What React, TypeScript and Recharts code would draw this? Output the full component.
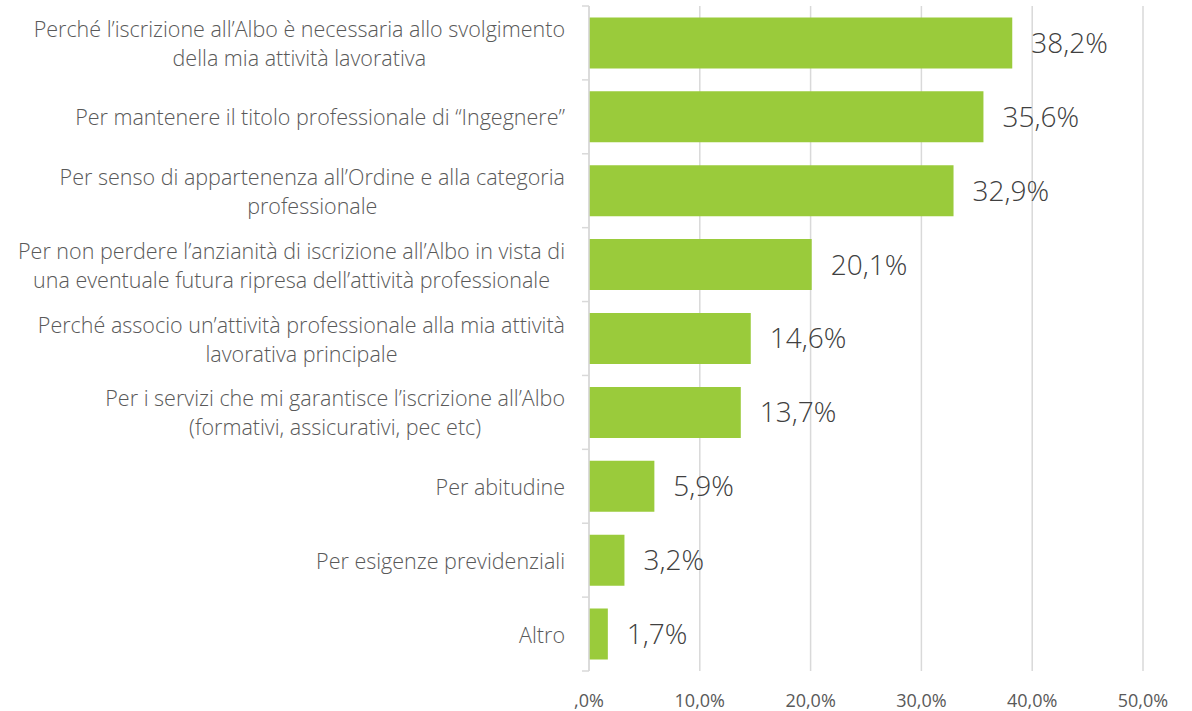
import React from "react";
import { BarChart, Bar, XAxis, YAxis, CartesianGrid, LabelList } from "recharts";

const categories: string[] = [
  "Perché l’iscrizione all’Albo è necessaria allo svolgimento\ndella mia attività lavorativa",
  "Per mantenere il titolo professionale di “Ingegnere”",
  "Per senso di appartenenza all’Ordine e alla categoria\nprofessionale",
  "Per non perdere l’anzianità di iscrizione all’Albo in vista di\nuna eventuale futura ripresa dell’attività professionale",
  "Perché associo un’attività professionale alla mia attività\nlavorativa principale",
  "Per i servizi che mi garantisce l’iscrizione all’Albo\n(formativi, assicurativi, pec etc)",
  "Per abitudine",
  "Per esigenze previdenziali",
  "Altro",
];
const values: number[] = [38.2, 35.6, 32.9, 20.1, 14.6, 13.7, 5.9, 3.2, 1.7];
const xTicks: number[] = [0, 10, 20, 30, 40, 50];
const xTickLabels: string[] = [",0%", "10,0%", "20,0%", "30,0%", "40,0%", "50,0%"];

const data = categories.map((label, i) => ({ label, value: values[i] }));

const FONT = "'Open Sans', sans-serif";
const GRAY = "#d9d9d9";

const YTick = (props: any) => {
  const { x, y, payload, index } = props;
  const half = payload && payload.offset ? payload.offset : 36.95;
  const lines: string[] = String(payload.value).split("\n");
  return (
    <g>
      <line x1={x - 7} x2={x} y1={y - half} y2={y - half} stroke={GRAY} strokeWidth={1.5} />
      {index === categories.length - 1 && (
        <line x1={x - 7} x2={x} y1={y + half} y2={y + half} stroke={GRAY} strokeWidth={1.5} />
      )}
      <foreignObject x={0} y={y - 40} width={x - 24} height={80}>
        <div
          style={{
            display: "flex",
            justifyContent: "flex-end",
            alignItems: "center",
            height: "100%",
            fontFamily: FONT,
            fontWeight: 300,
            fontSize: 21.5,
            lineHeight: "29px",
            color: "#595959",
          }}
        >
          <div style={{ textAlign: "center", whiteSpace: "nowrap" }}>
            {lines.map((l, i) => (
              <div key={i}>{l}</div>
            ))}
          </div>
        </div>
      </foreignObject>
    </g>
  );
};

export default function App() {
  return (
    <div style={{ position: "absolute", left: 0, top: 0, background: "#fff" }}>
      <BarChart
        width={1192}
        height={711}
        data={data}
        layout="vertical"
        margin={{ top: 6, right: 49, bottom: 0, left: 0 }}
        barCategoryGap="15.5%"
      >
        <CartesianGrid horizontal={false} vertical={true} stroke={GRAY} strokeWidth={1.5} />
        <XAxis
          type="number"
          domain={[0, 50]}
          ticks={xTicks}
          axisLine={false}
          tickLine={false}
          height={40}
          tickMargin={17}
          tick={{ fill: "#595959", fontSize: 18, fontFamily: FONT }}
          tickFormatter={(v: number) => xTickLabels[xTicks.indexOf(v)]}
        />
        <YAxis
          type="category"
          dataKey="label"
          width={589}
          axisLine={{ stroke: GRAY, strokeWidth: 1.5 }}
          tickLine={false}
          tickSize={0}
          tickMargin={0}
          tick={<YTick />}
          interval={0}
        />
        <Bar dataKey="value" fill="#9acb3b" isAnimationActive={false}>
          <LabelList
            dataKey="value"
            position="right"
            offset={19}
            formatter={(v: any) => Number(v).toFixed(1).replace(".", ",") + "%"}
            style={{ fill: "#404040", fontSize: 28, fontFamily: FONT, fontWeight: 300 }}
          />
        </Bar>
      </BarChart>
    </div>
  );
}
